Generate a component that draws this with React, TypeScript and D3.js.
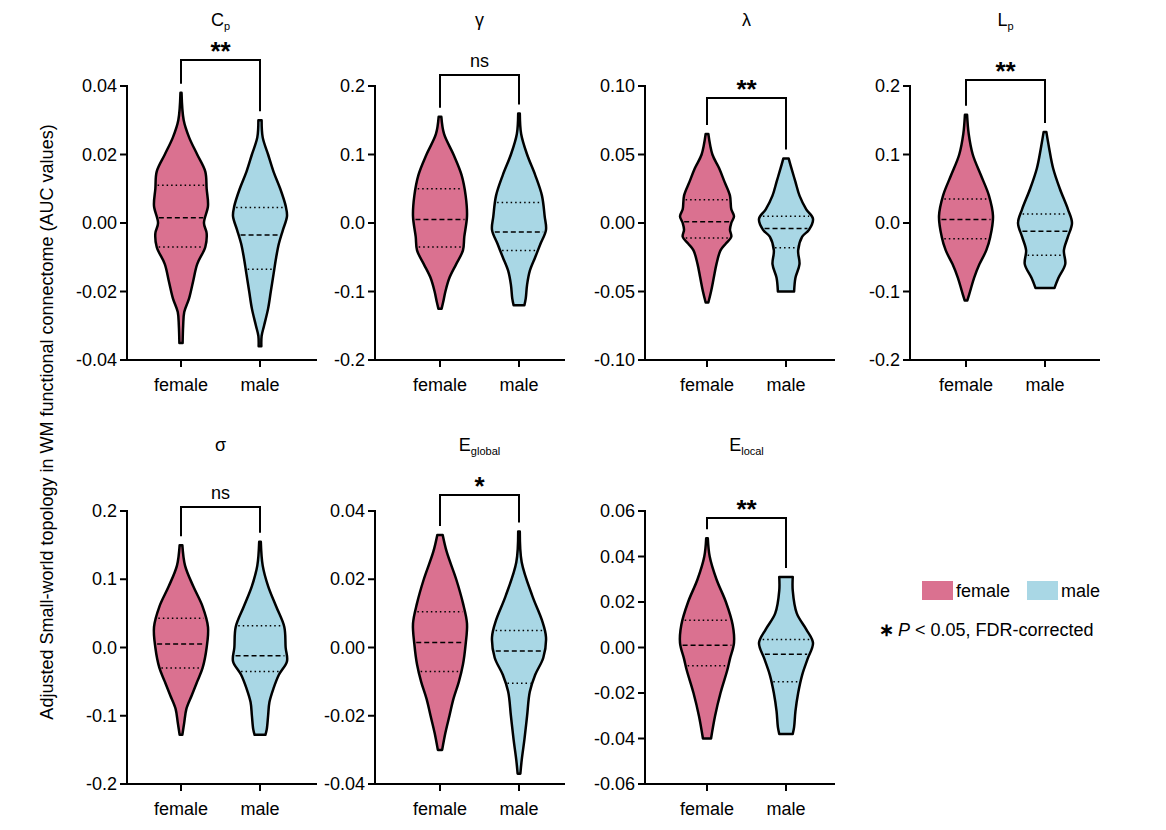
import React from "react";
import * as d3 from "d3";

const groups = ["female", "male"];
const colors = ["#da7190", "#a9d7e5"];

const titles = [["C", "p"], ["γ", ""], ["λ", ""], ["L", "p"], ["σ", ""], ["E", "global"], ["E", "local"]];
const signif = ["**", "ns", "**", "**", "ns", "*", "**"];
const domains = [[-0.04, 0.04], [-0.2, 0.2], [-0.1, 0.1], [-0.2, 0.2], [-0.2, 0.2], [-0.04, 0.04], [-0.06, 0.06]];
const tickSteps = [0.02, 0.1, 0.05, 0.1, 0.1, 0.02, 0.02];
const decimals = [2, 1, 2, 1, 1, 2, 2];
const bracketY = [60, 75, 98, 80, 507, 495, 518];

// quartiles [q3, median, q1] per panel per group
const quartiles = [
  [[0.011, 0.0015, -0.007], [0.0045, -0.0035, -0.0135]],
  [[0.05, 0.005, -0.035], [0.03, -0.013, -0.04]],
  [[0.017, 0.001, -0.011], [0.005, -0.004, -0.018]],
  [[0.035, 0.005, -0.023], [0.013, -0.012, -0.047]],
  [[0.043, 0.005, -0.03], [0.032, -0.012, -0.035]],
  [[0.0105, 0.0015, -0.007], [0.005, -0.001, -0.0105]],
  [[0.012, 0.001, -0.008], [0.0035, -0.003, -0.015]],
];

// density profiles [value, relative density]
const profiles: [number, number][][][] = [
  [
    [[0.038, 0.02], [0.03, 0.1], [0.025, 0.3], [0.02, 0.6], [0.015, 0.9], [0.01, 0.95], [0.005, 1], [0.0, 0.85], [-0.003, 0.95], [-0.007, 0.9], [-0.012, 0.6], [-0.017, 0.45], [-0.022, 0.3], [-0.026, 0.12], [-0.03, 0.08], [-0.035, 0.06]],
    [[0.03, 0.06], [0.025, 0.1], [0.02, 0.3], [0.015, 0.5], [0.01, 0.75], [0.005, 0.95], [0.002, 1], [-0.002, 0.85], [-0.006, 0.7], [-0.01, 0.6], [-0.015, 0.5], [-0.02, 0.4], [-0.025, 0.3], [-0.03, 0.15], [-0.033, 0.06], [-0.036, 0.05]],
  ],
  [
    [[0.155, 0.05], [0.13, 0.15], [0.1, 0.5], [0.07, 0.8], [0.04, 0.95], [0.01, 1], [-0.02, 0.9], [-0.04, 0.85], [-0.06, 0.6], [-0.08, 0.35], [-0.1, 0.2], [-0.115, 0.12], [-0.125, 0.06]],
    [[0.16, 0.03], [0.13, 0.08], [0.1, 0.3], [0.07, 0.6], [0.04, 0.85], [0.01, 0.95], [-0.01, 1], [-0.03, 0.8], [-0.05, 0.6], [-0.07, 0.4], [-0.09, 0.3], [-0.11, 0.25], [-0.12, 0.2]],
  ],
  [
    [[0.065, 0.05], [0.05, 0.2], [0.04, 0.45], [0.03, 0.65], [0.02, 0.85], [0.01, 0.9], [0.005, 1], [0, 0.9], [-0.005, 0.85], [-0.01, 0.9], [-0.015, 0.7], [-0.02, 0.5], [-0.03, 0.35], [-0.04, 0.25], [-0.05, 0.15], [-0.058, 0.05]],
    [[0.047, 0.1], [0.04, 0.2], [0.03, 0.35], [0.02, 0.5], [0.01, 0.75], [0.003, 1], [-0.005, 0.85], [-0.01, 0.6], [-0.02, 0.45], [-0.03, 0.5], [-0.04, 0.35], [-0.05, 0.3]],
  ],
  [
    [[0.158, 0.04], [0.13, 0.1], [0.1, 0.25], [0.07, 0.55], [0.04, 0.85], [0.01, 1], [-0.02, 0.9], [-0.04, 0.75], [-0.06, 0.5], [-0.08, 0.3], [-0.1, 0.15], [-0.113, 0.05]],
    [[0.133, 0.05], [0.11, 0.15], [0.08, 0.3], [0.05, 0.55], [0.02, 0.85], [0, 1], [-0.02, 0.85], [-0.04, 0.7], [-0.06, 0.75], [-0.08, 0.5], [-0.095, 0.35]],
  ],
  [
    [[0.15, 0.05], [0.12, 0.15], [0.09, 0.45], [0.06, 0.8], [0.03, 1], [0, 0.95], [-0.03, 0.8], [-0.05, 0.6], [-0.07, 0.4], [-0.09, 0.2], [-0.11, 0.12], [-0.128, 0.05]],
    [[0.155, 0.03], [0.12, 0.1], [0.09, 0.3], [0.06, 0.6], [0.03, 0.9], [0, 0.95], [-0.02, 1], [-0.04, 0.7], [-0.06, 0.5], [-0.08, 0.35], [-0.1, 0.3], [-0.12, 0.25], [-0.128, 0.2]],
  ],
  [
    [[0.033, 0.1], [0.028, 0.25], [0.02, 0.6], [0.013, 0.85], [0.007, 1], [0.001, 0.95], [-0.005, 0.85], [-0.01, 0.7], [-0.015, 0.5], [-0.02, 0.35], [-0.025, 0.2], [-0.03, 0.08]],
    [[0.034, 0.03], [0.025, 0.1], [0.015, 0.5], [0.008, 0.85], [0.003, 1], [-0.003, 0.9], [-0.008, 0.6], [-0.013, 0.4], [-0.02, 0.3], [-0.027, 0.2], [-0.033, 0.1], [-0.037, 0.05]],
  ],
  [
    [[0.048, 0.03], [0.04, 0.1], [0.03, 0.35], [0.02, 0.7], [0.01, 0.95], [0.002, 1], [-0.005, 0.85], [-0.01, 0.75], [-0.02, 0.5], [-0.03, 0.3], [-0.04, 0.15]],
    [[0.031, 0.25], [0.025, 0.25], [0.015, 0.4], [0.008, 0.75], [0.002, 1], [-0.005, 0.8], [-0.012, 0.6], [-0.02, 0.45], [-0.028, 0.35], [-0.035, 0.3], [-0.038, 0.25]],
  ],
];

const layout = [
  { ax: 127, f: 181, top: 86, bot: 360 },
  { ax: 375, f: 440, top: 86, bot: 360 },
  { ax: 645, f: 707, top: 86, bot: 360 },
  { ax: 910, f: 966, top: 86, bot: 360 },
  { ax: 127, f: 181, top: 511, bot: 784 },
  { ax: 375, f: 440, top: 511, bot: 784 },
  { ax: 645, f: 707, top: 511, bot: 784 },
];
const GAP = 79;
const HALF = 27;
const FONT = "Liberation Sans, Arial, sans-serif";
const FS = 18;

function widthAt(p: [number, number][], v: number) {
  const s = [...p].sort((a, b) => a[0] - b[0]);
  const i = d3.scaleLinear().domain(s.map((d) => d[0])).range(s.map((d) => d[1])).clamp(true);
  return i(v);
}

function Panel({ i }: { i: number }) {
  const L = layout[i];
  const y = d3.scaleLinear().domain(domains[i]).range([L.bot, L.top]);
  const xs = [L.f, L.f + GAP];
  const step = tickSteps[i];
  const n = Math.round((domains[i][1] - domains[i][0]) / step);
  const ticks = d3.range(n + 1).map((k) => domains[i][0] + k * step);
  const fmt = (v: number) => (Math.abs(v) < 1e-9 ? 0 : v).toFixed(decimals[i]);
  const axEnd = L.ax + 190;
  const tops = profiles[i].map((p) => p[0][0]);
  const cx = (L.f + L.f + GAP) / 2;
  const by = bracketY[i];
  return (
    <g>
      <text x={cx} y={L.top - 60} textAnchor="middle" fontSize={FS} fontFamily={FONT}>
        {titles[i][0]}
        {titles[i][1] && <tspan fontSize={11} dy={4}>{titles[i][1]}</tspan>}
      </text>
      {groups.map((g, gi) => {
        const prof = profiles[i][gi];
        const area = d3
          .area<[number, number]>()
          .y((d) => y(d[0]))
          .x0((d) => xs[gi] - d[1] * HALF)
          .x1((d) => xs[gi] + d[1] * HALF)
          .curve(d3.curveCatmullRom);
        return (
          <g key={g}>
            <path d={area(prof) || ""} fill={colors[gi]} stroke="#000" strokeWidth={2.5} strokeLinejoin="round" />
            {quartiles[i][gi].map((q, qi) => {
              const w = widthAt(prof, q) * HALF - 2;
              return (
                <line key={qi} x1={xs[gi] - w} x2={xs[gi] + w} y1={y(q)} y2={y(q)} stroke="#000"
                  strokeWidth={1.5} strokeDasharray={qi === 1 ? "5,3" : "1.5,3"} />
              );
            })}
          </g>
        );
      })}
      <path d={`M${xs[0]},${y(tops[0]) - 9}V${by}H${xs[1]}V${y(tops[1]) - 9}`} fill="none" stroke="#000" strokeWidth={2} />
      <text x={cx} y={by - (signif[i] === "ns" ? 8 : 0)} textAnchor="middle" fontSize={signif[i] === "ns" ? FS : 26}
        fontWeight={signif[i] === "ns" ? "normal" : "bold"} fontFamily={FONT}>
        {signif[i]}
      </text>
      <line x1={L.ax} x2={L.ax} y1={L.top - 1} y2={L.bot + 1} stroke="#000" strokeWidth={2} />
      <line x1={L.ax - 1} x2={axEnd} y1={L.bot} y2={L.bot} stroke="#000" strokeWidth={2} />
      {ticks.map((t) => (
        <g key={t}>
          <line x1={L.ax - 7} x2={L.ax} y1={y(t)} y2={y(t)} stroke="#000" strokeWidth={2} />
          <text x={L.ax - 10} y={y(t) + 6} textAnchor="end" fontSize={FS} fontFamily={FONT}>{fmt(t)}</text>
        </g>
      ))}
      {groups.map((g, gi) => (
        <g key={g}>
          <line x1={xs[gi]} x2={xs[gi]} y1={L.bot} y2={L.bot + 7} stroke="#000" strokeWidth={2} />
          <text x={xs[gi]} y={L.bot + 31} textAnchor="middle" fontSize={FS} fontFamily={FONT}>{g}</text>
        </g>
      ))}
    </g>
  );
}

export default function App() {
  return (
    <svg width={1158} height={822} style={{ display: "block", margin: "-8px 0 0 -8px" }}>
      <rect width={1158} height={822} fill="#fff" />
      {layout.map((_, i) => <Panel key={i} i={i} />)}
      <text transform="translate(53,422) rotate(-90)" textAnchor="middle" fontSize={FS} fontFamily={FONT}>
        Adjusted Small-world topology in WM functional connectome (AUC values)
      </text>
      <rect x={922} y={581} width={31} height={19} fill={colors[0]} />
      <text x={956} y={597} fontSize={FS} fontFamily={FONT}>female</text>
      <rect x={1027} y={581} width={31} height={19} fill={colors[1]} />
      <text x={1061} y={597} fontSize={FS} fontFamily={FONT}>male</text>
      <text x={879} y={636} fontSize={FS} fontFamily={FONT}>
        <tspan fontWeight="bold">∗</tspan>
        <tspan fontStyle="italic" dx={4}>P</tspan>
        <tspan> &lt; 0.05, FDR-corrected</tspan>
      </text>
    </svg>
  );
}
